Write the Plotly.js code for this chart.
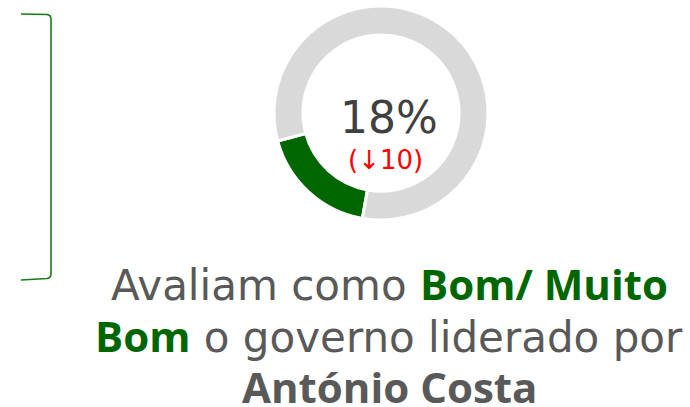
<!DOCTYPE html>
<html>
<head>
<meta charset="utf-8">
<script src="https://cdn.plot.ly/plotly-3.0.1.min.js"></script>
<style>html,body{margin:0;padding:0;background:#fff;}#chart{width:690px;height:407px;}</style>
</head>
<body>
<div id="chart"></div>
<script>
// Data
var categories = ["Bom/ Muito Bom", "Outros"];
var values = [18, 82];
var mainLabel = "18%";
var changeLabel = "(\u219310)";
var boldStyle = "font-family:'Open Sans',sans-serif";
var captionLines = [
  "Avaliam como <b><span style=\"color:#006600;" + boldStyle + "\">Bom/ Muito</span></b>",
  "<b><span style=\"color:#006600;" + boldStyle + "\">Bom</span></b> o governo liderado por",
  "<b><span style=\"" + boldStyle + "\">António Costa</span></b>"
];

var W = 690, H = 407;
var cx = 381, cy = 113, R = 107;

var trace = {
  type: "pie",
  labels: categories,
  values: values,
  sort: false,
  direction: "clockwise",
  rotation: 190,
  hole: 0.73,
  textinfo: "none",
  hoverinfo: "none",
  showlegend: false,
  marker: { colors: ["#006600", "#d9d9d9"], line: { color: "#ffffff", width: 3 } },
  domain: { x: [(cx - R) / W, (cx + R) / W], y: [(H - cy - R) / H, (H - cy + R) / H] }
};

var font = "DejaVu Sans, sans-serif";
var captionY = [283.5, 335.5, 386];
var captionAnn = captionLines.map(function (t, i) {
  return { x: 389, y: captionY[i], xref: "x", yref: "y", text: t, showarrow: false,
    xanchor: "center", yanchor: "middle", align: "center",
    font: { family: font, size: 42, color: "#595959" } };
});

var layout = {
  width: W, height: H,
  margin: { l: 0, r: 0, t: 0, b: 0 },
  paper_bgcolor: "#ffffff",
  plot_bgcolor: "rgba(0,0,0,0)",
  xaxis: { range: [0, W], visible: false, fixedrange: true },
  yaxis: { range: [H, 0], visible: false, fixedrange: true },
  showlegend: false,
  shapes: [{
    type: "path", xref: "x", yref: "y",
    path: "M 21 14 L 47 14.5 Q 51 15 51 19 L 51 274 Q 51 278 47 278.5 L 21 280",
    line: { color: "#1a7a1a", width: 1.6 }
  }],
  annotations: [
    { x: 389, y: 117, xref: "x", yref: "y", text: mainLabel, showarrow: false,
      xanchor: "center", yanchor: "middle",
      font: { family: font, size: 44, color: "#404040" } },
    { x: 385, y: 160, xref: "x", yref: "y", text: changeLabel, showarrow: false,
      xanchor: "center", yanchor: "middle",
      font: { family: font, size: 26, color: "#ff0000" } }
  ].concat(captionAnn)
};

Plotly.newPlot("chart", [trace], layout, { staticPlot: true, displayModeBar: false });
</script>
</body>
</html>
